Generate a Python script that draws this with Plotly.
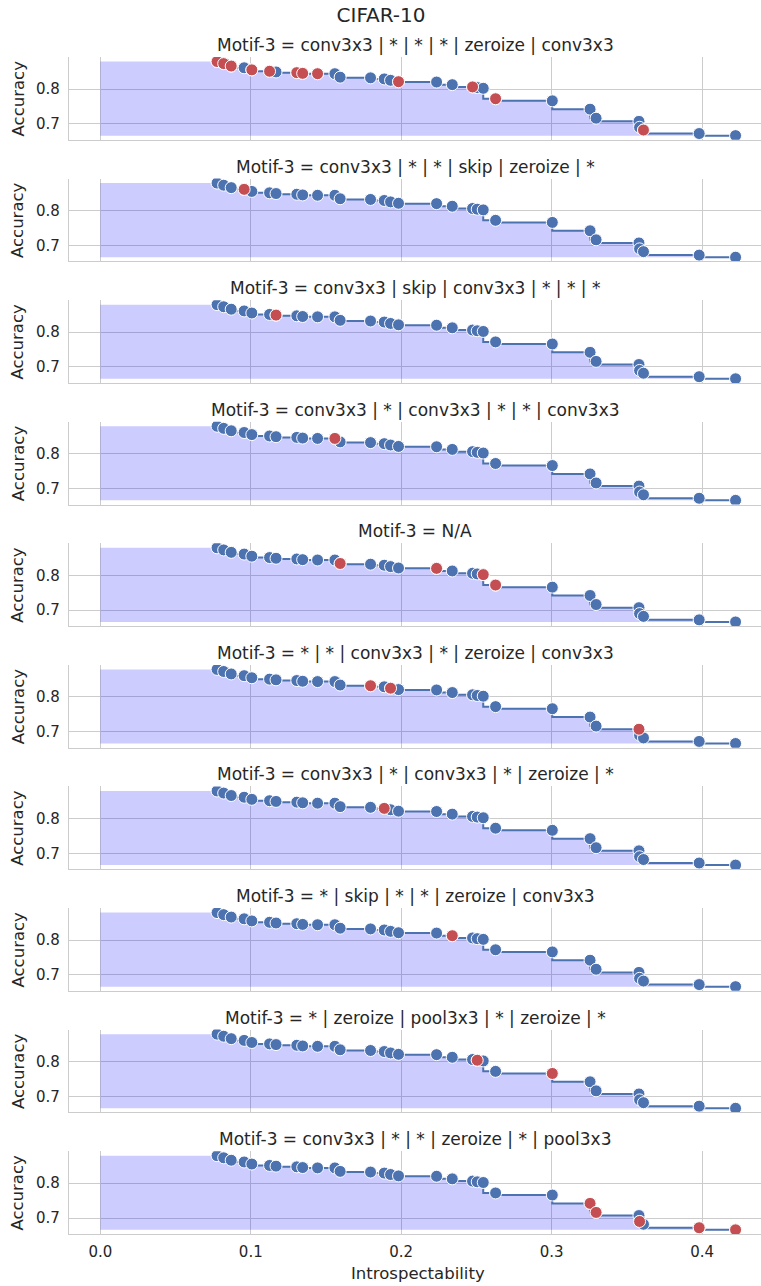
import plotly.graph_objects as go
from plotly.subplots import make_subplots

# Pareto-front points (shared by every panel)
introspectability = [0.0776, 0.0820, 0.0870, 0.0956, 0.1007, 0.1125, 0.1168, 0.1306, 0.1345, 0.1444,
                     0.1559, 0.1594, 0.1796, 0.1887, 0.1929, 0.1982, 0.2235, 0.2339, 0.2474, 0.2505,
                     0.2545, 0.2627, 0.3004, 0.3255, 0.3295, 0.3580, 0.3584, 0.3610, 0.3980, 0.4222]
accuracy = [0.879, 0.873, 0.866, 0.861, 0.855, 0.851, 0.849, 0.847, 0.845, 0.844,
            0.844, 0.834, 0.832, 0.829, 0.825, 0.821, 0.820, 0.8125, 0.806, 0.804,
            0.802, 0.772, 0.766, 0.742, 0.716, 0.707, 0.690, 0.682, 0.672, 0.666]

panel_titles = [
    "Motif-3 = conv3x3 | * | * | * | zeroize | conv3x3",
    "Motif-3 = conv3x3 | * | * | skip | zeroize | *",
    "Motif-3 = conv3x3 | skip | conv3x3 | * | * | *",
    "Motif-3 = conv3x3 | * | conv3x3 | * | * | conv3x3",
    "Motif-3 = N/A",
    "Motif-3 = * | * | conv3x3 | * | zeroize | conv3x3",
    "Motif-3 = conv3x3 | * | conv3x3 | * | zeroize | *",
    "Motif-3 = * | skip | * | * | zeroize | conv3x3",
    "Motif-3 = * | zeroize | pool3x3 | * | zeroize | *",
    "Motif-3 = conv3x3 | * | * | zeroize | * | pool3x3",
]
# indices of highlighted (red) points in each panel
highlighted = [
    [0, 1, 2, 4, 5, 7, 8, 9, 15, 18, 21, 27],
    [3],
    [6],
    [10],
    [11, 16, 20, 21],
    [12, 14, 25],
    [13],
    [17],
    [19, 22],
    [23, 24, 26, 28, 29],
]
x_ticks = [0.0, 0.1, 0.2, 0.3, 0.4]
y_ticks = [0.7, 0.8]

BLUE = "#4c72b0"
RED = "#c44e52"
FONT = "DejaVu Sans"
n_rows = len(panel_titles)

W, H = 761, 1286
ML, MR, MT, MB = 69, 0, 57, 52
plot_h = H - MT - MB
row_h = 82.8
gap = (plot_h - n_rows * row_h) / (n_rows - 1)

fig = make_subplots(rows=n_rows, cols=1, shared_xaxes=True,
                    vertical_spacing=gap / plot_h)

# step path (vertical then horizontal) and fill polygon built from the data
ymin = min(accuracy)
fx = [0.0, 0.0, introspectability[0]]
fy = [ymin, accuracy[0], accuracy[0]]
for i in range(len(introspectability) - 1):
    fx += [introspectability[i], introspectability[i + 1]]
    fy += [accuracy[i + 1], accuracy[i + 1]]
fx += [introspectability[-1], 0.0]
fy += [ymin, ymin]

for r in range(n_rows):
    row = r + 1
    fig.add_trace(go.Scatter(x=fx, y=fy, mode="lines", fill="toself",
                             fillcolor="rgba(0,0,255,0.2)", line=dict(width=0),
                             hoverinfo="skip", showlegend=False), row=row, col=1)
    fig.add_trace(go.Scatter(x=introspectability, y=accuracy, mode="lines",
                             line=dict(color=BLUE, width=2, shape="vh"),
                             showlegend=False), row=row, col=1)
    fig.add_trace(go.Scatter(x=introspectability, y=accuracy, mode="markers",
                             marker=dict(color=BLUE, size=12,
                                         line=dict(color="white", width=1)),
                             showlegend=False), row=row, col=1)
    hx = [introspectability[i] for i in highlighted[r]]
    hy = [accuracy[i] for i in highlighted[r]]
    fig.add_trace(go.Scatter(x=hx, y=hy, mode="markers",
                             marker=dict(color=RED, size=12,
                                         line=dict(color="white", width=1)),
                             showlegend=False), row=row, col=1)

fig.update_xaxes(range=[-0.0208, 0.4391], tickvals=x_ticks,
                 ticktext=[f"{v:.1f}" for v in x_ticks],
                 showgrid=True, gridcolor="#cccccc", gridwidth=1,
                 showline=True, linecolor="#cccccc", linewidth=1.3,
                 zeroline=False, ticks="outside", ticklen=4,
                 tickcolor="rgba(0,0,0,0)",
                 tickfont=dict(family=FONT, size=15, color="#262626"))
fig.update_yaxes(range=[0.654, 0.892], tickvals=y_ticks,
                 ticktext=[f"{v:.1f}" for v in y_ticks],
                 showgrid=True, gridcolor="#cccccc", gridwidth=1,
                 showline=True, linecolor="#cccccc", linewidth=1.3,
                 zeroline=False, ticks="outside", ticklen=5,
                 tickcolor="rgba(0,0,0,0)",
                 tickfont=dict(family=FONT, size=15, color="#262626"))

annotations = []
for r in range(n_rows):
    top_px = MT + r * (row_h + gap)
    top_paper = 1 - (top_px - MT) / plot_h
    mid_paper = 1 - (top_px + row_h / 2 - MT) / plot_h
    annotations.append(dict(text=panel_titles[r], x=0.5, y=top_paper,
                            xref="paper", yref="paper", xanchor="center",
                            yanchor="middle", yshift=12, showarrow=False,
                            font=dict(family=FONT, size=17, color="#262626")))
    annotations.append(dict(text="Accuracy", x=(18 - ML) / (W - ML - MR),
                            y=mid_paper, xref="paper", yref="paper",
                            xanchor="center", yanchor="middle", textangle=-90,
                            showarrow=False,
                            font=dict(family=FONT, size=16.5, color="#262626")))
annotations.append(dict(text="Introspectability", x=(418 - ML) / (W - ML - MR),
                        y=(H - MB - 1273) / plot_h, xref="paper", yref="paper",
                        xanchor="center", yanchor="middle", showarrow=False,
                        font=dict(family=FONT, size=16.5, color="#262626")))

fig.update_layout(
    width=W, height=H,
    margin=dict(l=ML, r=MR, t=MT, b=MB),
    paper_bgcolor="white", plot_bgcolor="white",
    title=dict(text="CIFAR-10", x=381 / W, xanchor="center",
               y=1 - 15 / H, yanchor="middle",
               font=dict(family=FONT, size=20, color="#262626")),
    annotations=annotations,
    showlegend=False,
)

fig.write_html("out.html",
               config={"displayModeBar": False},
               post_script="document.body.style.margin='0';document.body.style.overflow='hidden';")
